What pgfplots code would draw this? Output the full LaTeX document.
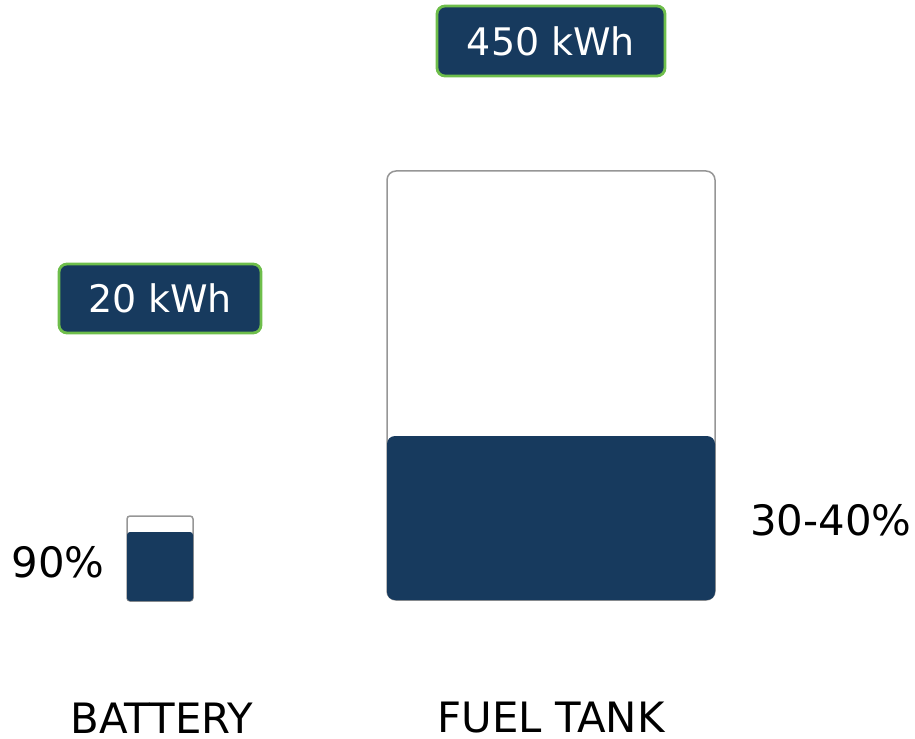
\documentclass[border=0pt]{standalone}
\usepackage{pgfplots}
\pgfplotsset{compat=1.18}
\usepackage{fontspec}
\setmainfont{DejaVu Sans}
\definecolor{navy}{RGB}{23,58,94}
\definecolor{badgegreen}{RGB}{110,190,75}
\definecolor{outline}{RGB}{150,150,150}
\tikzset{
  badge/.style={fill=navy, draw=badgegreen, line width=0.28mm, rounded corners=0.8mm,
     text=white, font=\fontsize{10.8}{12}\selectfont, inner sep=0pt},
  lab/.style={font=\fontsize{11.9}{14}\selectfont, text=black, inner sep=0pt},
}
\begin{document}
\begin{tikzpicture}
\begin{axis}[
  scale only axis, width=9.15cm, height=7.38cm,
  xmin=0, xmax=915, ymin=0, ymax=738,
  hide axis, clip=false,
]
\path (rel axis cs:0,0) rectangle (rel axis cs:1,1);
% Battery: capacity outline and 90% fill
\addplot[draw=outline, fill=white, line width=0.15mm, rounded corners=0.3mm]
  coordinates {(127,137) (127,222) (193,222) (193,137)} -- cycle;
\addplot[draw=none, fill=navy, rounded corners=0.3mm]
  coordinates {(127,137) (127,206) (193,206) (193,137)} -- cycle;
% Fuel tank: capacity outline and 30-40% fill
\addplot[draw=outline, fill=white, line width=0.15mm, rounded corners=0.9mm]
  coordinates {(387,138) (387,567) (715,567) (715,138)} -- cycle;
\addplot[draw=none, fill=navy, rounded corners=0.8mm]
  coordinates {(387,138) (387,302) (715,302) (715,138)} -- cycle;
% labels
\node[badge, minimum width=20.2mm, minimum height=6.9mm] at (axis cs:160,439.5) {20 kWh};
\node[badge, minimum width=22.8mm, minimum height=7.0mm] at (axis cs:551,697) {450 kWh};
\node[lab] at (axis cs:58,176) {90\%};
\node[lab] at (axis cs:831,218) {30-40\%};
\node[lab] at (axis cs:162,20) {BATTERY};
\node[lab] at (axis cs:551,20) {FUEL TANK};
\end{axis}
\end{tikzpicture}
\end{document}
